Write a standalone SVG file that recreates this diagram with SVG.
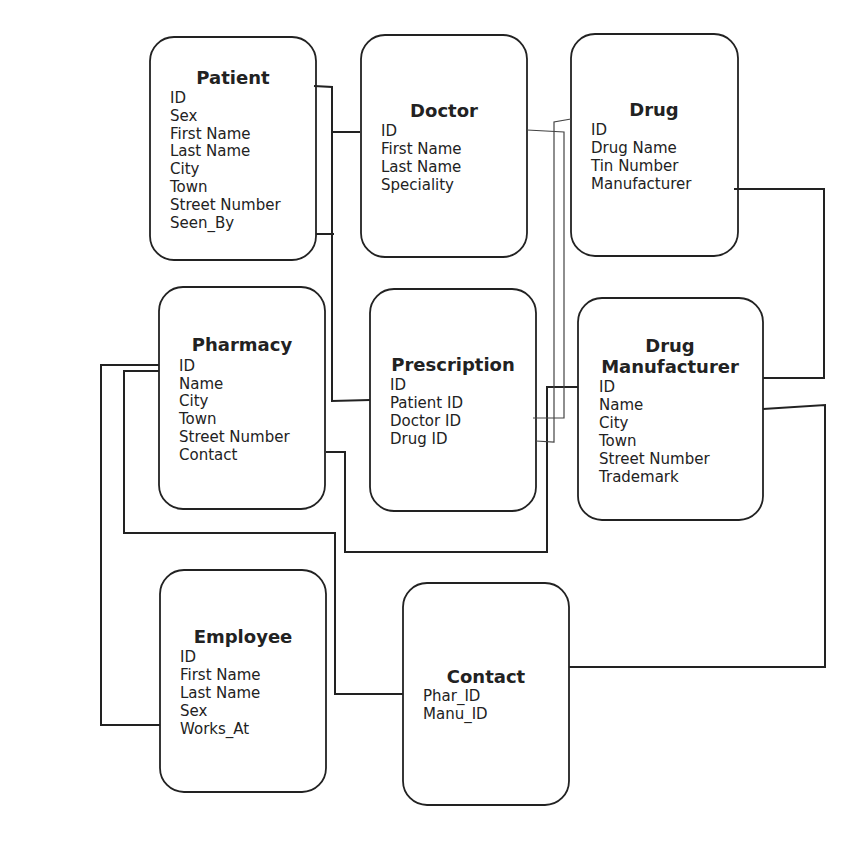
<svg xmlns="http://www.w3.org/2000/svg" width="862" height="867" viewBox="0 0 862 867">
<style>
.box{fill:#fff;stroke:#222;stroke-width:1.8}
.t{font-family:"DejaVu Sans",sans-serif;font-size:18px;font-weight:bold;fill:#222;text-anchor:middle}
.a{font-family:"DejaVu Sans",sans-serif;font-size:15px;fill:#222}
.c{fill:none;stroke:#222;stroke-width:2}
.thin{fill:none;stroke:#444;stroke-width:1.2}
</style>
<rect width="862" height="867" fill="#fff"/>
<g id="patient">
<rect class="box" x="150" y="37" width="166" height="223" rx="24"/>
<text class="t" x="233" y="84">Patient</text>
<text class="a" x="170" y="103">ID</text>
<text class="a" x="170" y="121">Sex</text>
<text class="a" x="170" y="139">First Name</text>
<text class="a" x="170" y="156">Last Name</text>
<text class="a" x="170" y="174">City</text>
<text class="a" x="170" y="192">Town</text>
<text class="a" x="170" y="210">Street Number</text>
<text class="a" x="170" y="228">Seen_By</text>
</g>
<g id="doctor">
<rect class="box" x="361" y="35" width="166" height="222" rx="24"/>
<text class="t" x="444" y="117">Doctor</text>
<text class="a" x="381" y="136">ID</text>
<text class="a" x="381" y="154">First Name</text>
<text class="a" x="381" y="172">Last Name</text>
<text class="a" x="381" y="190">Speciality</text>
</g>
<g id="drug">
<rect class="box" x="571" y="34" width="167" height="222" rx="24"/>
<text class="t" x="654" y="116">Drug</text>
<text class="a" x="591" y="135">ID</text>
<text class="a" x="591" y="153">Drug Name</text>
<text class="a" x="591" y="171">Tin Number</text>
<text class="a" x="591" y="189">Manufacturer</text>
</g>
<g id="pharmacy">
<rect class="box" x="159" y="287" width="166" height="222" rx="24"/>
<text class="t" x="242" y="351">Pharmacy</text>
<text class="a" x="179" y="371">ID</text>
<text class="a" x="179" y="389">Name</text>
<text class="a" x="179" y="406">City</text>
<text class="a" x="179" y="424">Town</text>
<text class="a" x="179" y="442">Street Number</text>
<text class="a" x="179" y="460">Contact</text>
</g>
<g id="prescription">
<rect class="box" x="370" y="289" width="166" height="222" rx="24"/>
<text class="t" x="453" y="371">Prescription</text>
<text class="a" x="390" y="390">ID</text>
<text class="a" x="390" y="408">Patient ID</text>
<text class="a" x="390" y="426">Doctor ID</text>
<text class="a" x="390" y="444">Drug ID</text>
</g>
<g id="drug-manufacturer">
<rect class="box" x="578" y="298" width="185" height="222" rx="24"/>
<text class="t" x="670" y="352">Drug</text>
<text class="t" x="670" y="373">Manufacturer</text>
<text class="a" x="599" y="392">ID</text>
<text class="a" x="599" y="410">Name</text>
<text class="a" x="599" y="428">City</text>
<text class="a" x="599" y="446">Town</text>
<text class="a" x="599" y="464">Street Number</text>
<text class="a" x="599" y="482">Trademark</text>
</g>
<g id="employee">
<rect class="box" x="160" y="570" width="166" height="222" rx="24"/>
<text class="t" x="243" y="643">Employee</text>
<text class="a" x="180" y="662">ID</text>
<text class="a" x="180" y="680">First Name</text>
<text class="a" x="180" y="698">Last Name</text>
<text class="a" x="180" y="716">Sex</text>
<text class="a" x="180" y="734">Works_At</text>
</g>
<g id="contact">
<rect class="box" x="403" y="583" width="166" height="222" rx="24"/>
<text class="t" x="486" y="683">Contact</text>
<text class="a" x="423" y="701">Phar_ID</text>
<text class="a" x="423" y="719">Manu_ID</text>
</g>
<g id="connectors">
<polyline class="c" points="314,86 332,87 332,401 370,400"/>
<polyline class="c" points="316,234 334,234"/>
<polyline class="c" points="332,132 360,132"/>
<polyline class="c" points="326,452 345,452 345,552 547,552 547,387 578,387"/>
<polyline class="c" points="159,371 124,371 124,533 335,533 335,694 403,694"/>
<polyline class="c" points="160,725 101,725 101,365 159,365"/>
<polyline class="c" points="734,189 824,189 824,378 763,378"/>
<polyline class="c" points="763,409 825,405 825,667 569,667"/>
<polyline class="thin" points="527,130 564,132 564,418 533,418"/>
<polyline class="thin" points="571,119 554,122 554,442 536,441"/>
</g>
</svg>
